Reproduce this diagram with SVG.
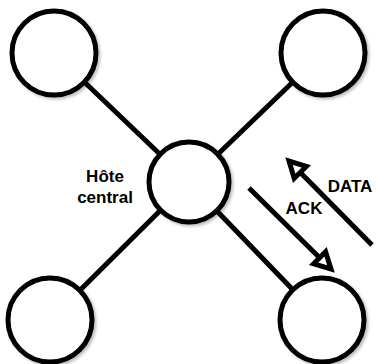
<svg xmlns="http://www.w3.org/2000/svg" width="376" height="364" viewBox="0 0 376 364">
  <style>
    .node { fill: #ffffff; stroke: #000000; stroke-width: 5; filter: url(#shadow); }
    .link { stroke: #000000; stroke-width: 5; fill: none; }
    .msg { stroke: #000000; stroke-width: 5; fill: none; marker-end: url(#openArrow); }
    .lbl { font-family: "Liberation Sans", Arial, Helvetica, sans-serif; font-weight: bold; font-size: 17px; fill: #000000; }
  </style>
  <defs>
    <filter id="shadow" x="-20%" y="-20%" width="150%" height="150%">
      <feDropShadow dx="2" dy="2" stdDeviation="1.5" flood-color="#000000" flood-opacity="0.25"/>
    </filter>
    <marker id="openArrow" markerUnits="userSpaceOnUse" markerWidth="26" markerHeight="26" viewBox="-5 -5 26 26" refX="16" refY="8.5" orient="auto" overflow="visible">
      <path d="M0,0 L16,8.5 L0,17 Z" fill="#ffffff" stroke="#000000" stroke-width="5" stroke-linejoin="miter"/>
    </marker>
  </defs>
  <rect width="376" height="364" fill="#ffffff"/>
  <g id="connectors">
    <line class="link" x1="54" y1="53" x2="189" y2="182"/>
    <line class="link" x1="323" y1="53" x2="189" y2="182"/>
    <line class="link" x1="50" y1="320" x2="189" y2="182"/>
    <line class="link" x1="322" y1="320" x2="189" y2="182"/>
    <line id="ack-arrow" class="msg" x1="249" y1="188" x2="331" y2="269"/>
    <line id="data-arrow" class="msg" x1="372" y1="245" x2="289" y2="161"/>
  </g>
  <g id="node-top-left"><circle class="node" cx="54" cy="53" r="42"/></g>
  <g id="node-top-right"><circle class="node" cx="323" cy="53" r="42"/></g>
  <g id="node-bottom-left"><circle class="node" cx="50" cy="320" r="42"/></g>
  <g id="node-bottom-right"><circle class="node" cx="322" cy="320" r="42"/></g>
  <g id="node-center">
    <circle class="node" cx="189" cy="182" r="40"/>
    <text class="lbl" x="105" y="182" text-anchor="middle">Hôte</text>
    <text class="lbl" x="105" y="203" text-anchor="middle">central</text>
  </g>
  <g id="labels">
    <text class="lbl" x="304" y="214" text-anchor="middle">ACK</text>
    <text class="lbl" x="350" y="192" text-anchor="middle">DATA</text>
  </g>
</svg>
